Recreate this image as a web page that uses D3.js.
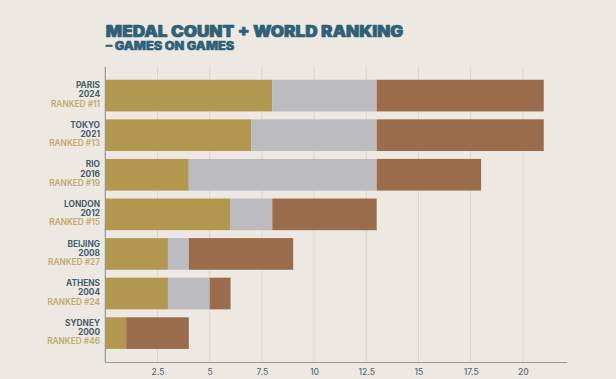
<!DOCTYPE html>
<html>
<head>
<meta charset="utf-8">
<script src="https://cdn.jsdelivr.net/npm/d3@7"></script>
<style>
  html, body { margin: 0; padding: 0; background: #ede8e2; }
  svg { display: block; }
</style>
</head>
<body>
<div id="chart"></div>
<script>
// ---- data ----
const games = ["PARIS", "TOKYO", "RIO", "LONDON", "BEIJING", "ATHENS", "SYDNEY"];
const years = ["2024", "2021", "2016", "2012", "2008", "2004", "2000"];
const ranks = ["#11", "#13", "#19", "#15", "#27", "#24", "#46"];
const gold   = [8, 7, 4, 6, 3, 3, 1];
const silver = [5, 6, 9, 2, 1, 2, 0];
const bronze = [8, 8, 5, 5, 5, 1, 3];
const tickValues = [2.5, 5, 7.5, 10, 12.5, 15, 17.5, 20];
const tickLabels = ["2.5", "5", "7.5", "10", "12.5", "15", "17.5", "20"];
const title = "MEDAL COUNT + WORLD RANKING";
const subtitle = "– GAMES ON GAMES";

// ---- layout ----
const W = 616, H = 379;
const colors = { gold: "#b2984f", silver: "#bcbbc0", bronze: "#9b6c4b" };

const svg = d3.select("#chart").append("svg").attr("width", W).attr("height", H);
svg.append("rect").attr("width", W).attr("height", H).attr("fill", "#ede8e2");

const x = d3.scaleLinear().domain([0, 22.1]).range([105.3, 566.7]);
const y = d3.scaleBand().domain(games).range([66.7, 362]).paddingInner(0.2).paddingOuter(0.33);

// gridlines
svg.append("g").selectAll("line").data(tickValues).join("line")
  .attr("x1", d => x(d)).attr("x2", d => x(d))
  .attr("y1", 66.7).attr("y2", 362)
  .attr("stroke", "#dbd5ce").attr("stroke-width", 1);

// stacked bars
const rows = games.map((g, i) => ({ g, gold: gold[i], silver: silver[i], bronze: bronze[i] }));
const stack = d3.stack().keys(["gold", "silver", "bronze"])(rows);
svg.append("g").selectAll("g").data(stack).join("g")
  .attr("fill", s => colors[s.key])
  .selectAll("rect").data(s => s).join("rect")
  .attr("x", d => x(d[0]))
  .attr("width", d => Math.max(0, x(d[1]) - x(d[0])))
  .attr("y", d => y(d.data.g))
  .attr("height", y.bandwidth());

// axes
const xAxis = d3.axisBottom(x).tickValues(tickValues)
  .tickFormat((d, i) => tickLabels[i]).tickSize(0).tickPadding(7);
const gx = svg.append("g").attr("transform", "translate(0,362)").call(xAxis);
gx.select(".domain").attr("stroke", "#8a9ca2").attr("stroke-width", 1.2);
gx.selectAll("text").attr("fill", "#5b6b78").attr("font-family", "Inter, 'Noto Sans', sans-serif")
  .attr("font-size", 8.5).attr("font-weight", 500);

svg.append("line").attr("x1", x(0)).attr("x2", x(0)).attr("y1", 66.7).attr("y2", 362.6)
  .attr("stroke", "#8a9ca2").attr("stroke-width", 1.2);

// y labels
const yl = svg.append("g").selectAll("text").data(games).join("text")
  .attr("text-anchor", "end")
  .attr("font-family", "Inter, 'Noto Sans', sans-serif")
  .attr("font-size", 8.3);
yl.each(function(g, i) {
  const c = y(g) + y.bandwidth() / 2;
  const t = d3.select(this);
  t.append("tspan").attr("x", 100).attr("y", c - 7.4).attr("fill", "#465d6c").attr("font-weight", 700).text(g);
  t.append("tspan").attr("x", 100).attr("y", c + 1.8).attr("fill", "#465d6c").attr("font-weight", 700).text(years[i]);
  t.append("tspan").attr("x", 100).attr("y", c + 11.1).attr("fill", "#c4a96c").attr("font-weight", 600).text("RANKED " + ranks[i]);
});

// titles
svg.append("text").attr("x", 105.8).attr("y", 36.7)
  .attr("font-family", "Inter, Roboto, sans-serif").attr("font-weight", 900)
  .attr("font-size", 15.3).attr("fill", "#2e6178")
  .attr("stroke", "#2e6178").attr("stroke-width", 0.7).attr("stroke-linejoin", "round")
  .attr("textLength", 297.5).attr("lengthAdjust", "spacingAndGlyphs")
  .text(title);
svg.append("text").attr("x", 105.8).attr("y", 50.3)
  .attr("font-family", "Inter, Roboto, sans-serif").attr("font-weight", 900)
  .attr("font-size", 11.2).attr("fill", "#2e6178")
  .attr("stroke", "#2e6178").attr("stroke-width", 0.5).attr("stroke-linejoin", "round")
  .attr("textLength", 128.5).attr("lengthAdjust", "spacingAndGlyphs")
  .text(subtitle);
</script>
</body>
</html>
